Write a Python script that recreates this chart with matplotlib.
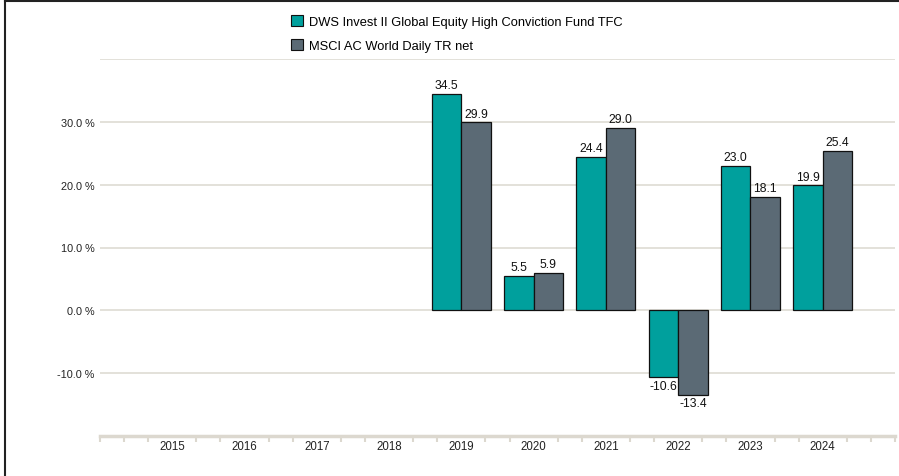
import numpy as np
import matplotlib
matplotlib.use('Agg')
import matplotlib.pyplot as plt
from matplotlib.lines import Line2D
from matplotlib.patches import Patch

plt.rcParams['font.family'] = ['Liberation Sans', 'DejaVu Sans']

# data
years = ['2015', '2016', '2017', '2018', '2019', '2020', '2021', '2022', '2023', '2024']
fund = [np.nan, np.nan, np.nan, np.nan, 34.5, 5.5, 24.4, -10.6, 23.0, 19.9]
bench = [np.nan, np.nan, np.nan, np.nan, 29.9, 5.9, 29.0, -13.4, 18.1, 25.4]
series_names = ['DWS Invest II Global Equity High Conviction Fund TFC',
                'MSCI AC World Daily TR net']
y_ticks = [-10, 0, 10, 20, 30, 40]

fund_color = '#00a09d'
bench_color = '#5b6a75'
grid_color = '#dedbd3'
axis_color = '#dcd8cf'

fig = plt.figure(figsize=(8.99, 4.77), dpi=100)
ax = fig.add_axes([100 / 899, 40 / 477, 795 / 899, 377 / 477])

x = np.arange(len(years))
w = 0.408
b1 = ax.bar(x - w / 2, fund, w, color=fund_color, edgecolor='#111111', linewidth=0.9, zorder=3)
b2 = ax.bar(x + w / 2, bench, w, color=bench_color, edgecolor='#111111', linewidth=0.9, zorder=3)

for bars, vals in ((b1, fund), (b2, bench)):
    for rect, v in zip(bars, vals):
        if np.isnan(v):
            continue
        cx = rect.get_x() + rect.get_width() / 2
        if v >= 0:
            ax.annotate(f'{v:.1f}', (cx, v), xytext=(0, 2), textcoords='offset points',
                        ha='center', va='bottom', fontsize=8.7, color='#111111')
        else:
            ax.annotate(f'{v:.1f}', (cx, v), xytext=(0, -2), textcoords='offset points',
                        ha='center', va='top', fontsize=8.7, color='#111111')

ax.set_xlim(-1, len(years))
ax.set_ylim(-20, 40)

ax.set_yticks(y_ticks)
ax.set_yticklabels([f'{t:.1f} %' if t != 40 else '' for t in y_ticks])
ax.tick_params(axis='y', length=0, pad=4, labelsize=7.8, labelcolor='#222222')
ax.yaxis.grid(True, color=grid_color, linewidth=1.2, zorder=0)

ax.set_xticks(x)
ax.set_xticklabels(years)
ax.tick_params(axis='x', which='major', length=0, pad=3, labelsize=8.3, labelcolor='#222222')
minor = [-1]
for i in range(-1, len(years)):
    minor += [i + 1 / 3, i + 2 / 3]
minor.append(len(years))
ax.set_xticks(minor, minor=True)
ax.tick_params(axis='x', which='minor', length=4, width=1.5, color=axis_color, direction='out')

for s in ['top', 'right', 'left']:
    ax.spines[s].set_visible(False)
ax.spines['bottom'].set_color(axis_color)
ax.spines['bottom'].set_linewidth(2.5)
ax.set_axisbelow(True)

handles = [Patch(facecolor=fund_color, edgecolor='#111111', linewidth=0.8),
           Patch(facecolor=bench_color, edgecolor='#111111', linewidth=0.8)]
fig.legend(handles, series_names, loc='upper left', bbox_to_anchor=(286 / 899, 1 - 11 / 477),
           frameon=False, fontsize=9.3, handlelength=0.9, handleheight=0.9,
           handletextpad=0.45, labelspacing=0.85, borderaxespad=0)

# outer frame lines
fig.add_artist(Line2D([5 / 899, 5 / 899], [0, 1 - 2 / 477], color='#222222', linewidth=1.5,
                      transform=fig.transFigure))
fig.add_artist(Line2D([5 / 899, 1], [1 - 2 / 477, 1 - 2 / 477], color='#222222', linewidth=1.5,
                      transform=fig.transFigure))

fig.savefig('out.png', dpi=100)
